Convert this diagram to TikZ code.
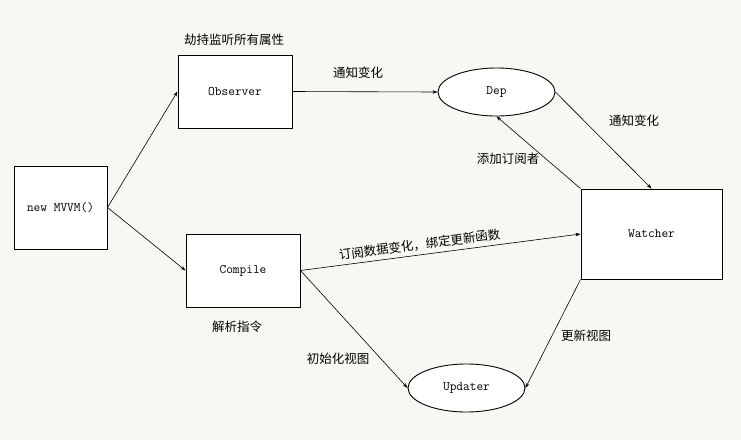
\documentclass[tikz,border=0pt]{standalone}
\usepackage{fontspec}
\newfontfamily\cjk{Noto Sans CJK SC}
\usetikzlibrary{shapes.geometric,arrows.meta}
\definecolor{paper}{RGB}{249,247,241}
\tikzset{
  box/.style={draw, line width=1pt, fill=white, font=\ttfamily\fontsize{13}{14}\selectfont},
  oval/.style={ellipse, draw, line width=0.9pt, fill=white, minimum width=117pt, minimum height=48pt, inner sep=0pt, font=\ttfamily\fontsize{13}{14}\selectfont},
  flow/.style={-{Stealth[length=5pt,width=3.5pt]}, line width=0.6pt},
  note/.style={font=\cjk\fontsize{12.5}{15}\selectfont, inner sep=1pt},
}

\begin{document}
\begin{tikzpicture}[x=1pt, y=-1pt]
            \fill[paper] (0,0) rectangle (741,440);
            \useasboundingbox (0,0) rectangle (741,440);

            \node[box, minimum width=93pt, minimum height=83pt] (mvvm) at (60.5,207.5) {new MVVM()};
            \node[box, minimum width=114pt, minimum height=73pt] (observer) at (235,91.5) {Observer};
            \node[box, minimum width=114pt, minimum height=73pt] (compile) at (243,270.5) {Compile};
            \node[box, minimum width=141pt, minimum height=90pt] (watcher) at (651.5,234) {Watcher};
            \node[oval] (dep) at (496.5,92) {Dep};
            \node[oval] (updater) at (466.5,388) {Updater};

            \node[note] (hijack) at (234,40) {劫持监听所有属性};
            \node[note] (notify1) at (358,73) {通知变化};
            \node[note] (notify2) at (634,121) {通知变化};
            \node[note] (addsub) at (508,159) {添加订阅者};
            \node[note] (parse) at (237,327) {解析指令};
            \node[note] (initview) at (338,359) {初始化视图};
            \node[note] (updview) at (586,336) {更新视图};

            \draw[flow] (mvvm.east) -- (observer.west);
            \draw[flow] (mvvm.east) -- (compile.west);
            \draw[flow] (observer.east) -- (dep.west);
            \draw[flow] (dep.east) -- (watcher.north);
            \draw[flow] (watcher.north west) -- (dep.south);
            \draw[flow] (compile.east) -- node[note, pos=0.43, above=3pt, sloped] (subscribe) {订阅数据变化，绑定更新函数} (watcher.west);
            \draw[flow] (compile.east) -- (updater.west);
            \draw[flow] (watcher.south west) -- (updater.east);
        \end{tikzpicture}
\end{document}
